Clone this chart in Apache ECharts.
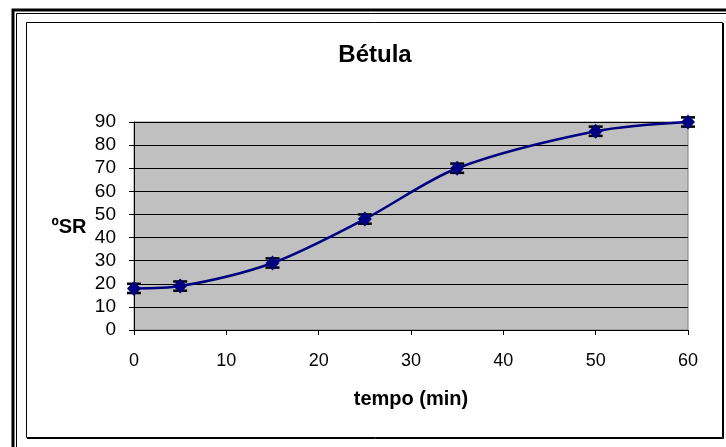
<!DOCTYPE html>
<html>
<head>
<meta charset="utf-8">
<script src="https://cdn.jsdelivr.net/npm/echarts@6/dist/echarts.min.js"></script>
<style>
  html, body { margin: 0; padding: 0; background: #fff; }
  #chart { width: 726px; height: 447px; }
</style>
</head>
<body>
<div id="chart"></div>
<script>
// Refining time (min) against Schopper-Riegler degree for birch pulp
const tempo = [0, 5, 15, 25, 35, 50, 60];
const grauSR = [18, 19, 29, 48, 70, 86, 90];
const erroSR = [2, 2, 2, 2, 2, 2, 2];
const xTicks = [0, 10, 20, 30, 40, 50, 60];
const yTicks = [0, 10, 20, 30, 40, 50, 60, 70, 80, 90];

const FONT = '"Liberation Sans", Arial, sans-serif';

const points = tempo.map((t, i) => [t, grauSR[i]]);
const errData = tempo.map((t, i) => [t, grauSR[i] - erroSR[i], grauSR[i] + erroSR[i]]);

const chart = echarts.init(document.getElementById('chart'), null, { renderer: 'canvas' });

chart.setOption({
  animation: false,
  backgroundColor: '#ffffff',
  grid: {
    left: 134, right: 38, top: 122, bottom: 117,
    show: true,
    backgroundColor: '#c0c0c0',
    borderColor: '#808080',
    borderWidth: 1
  },
  xAxis: {
    type: 'value',
    min: xTicks[0], max: xTicks[xTicks.length - 1], interval: 10,
    axisLine: { show: true, onZero: false, lineStyle: { color: '#000', width: 1 } },
    axisTick: { show: true, inside: false, length: 5, lineStyle: { color: '#000' } },
    splitLine: { show: false },
    axisLabel: { color: '#000', fontFamily: FONT, fontSize: 18, margin: 22 },
    name: 'tempo (min)',
    nameLocation: 'middle',
    nameGap: 59,
    nameTextStyle: { color: '#000', fontFamily: FONT, fontSize: 20, fontWeight: 'bold' }
  },
  yAxis: {
    type: 'value',
    min: yTicks[0], max: yTicks[yTicks.length - 1], interval: 10,
    axisLine: { show: true, lineStyle: { color: '#000', width: 1 } },
    axisTick: { show: true, inside: false, length: 5, lineStyle: { color: '#000' } },
    splitLine: { show: true, lineStyle: { color: '#000', width: 1 } },
    axisLabel: { color: '#000', fontFamily: FONT, fontSize: 19, margin: 18 }
  },
  graphic: [
    // double outer frame
    { type: 'rect', shape: { x: 13, y: 10, width: 900, height: 900 },
      style: { fill: 'none', stroke: '#000', lineWidth: 3 }, silent: true },
    { type: 'rect', shape: { x: 16.5, y: 13.5, width: 900, height: 900 },
      style: { fill: 'none', stroke: '#000', lineWidth: 1 }, silent: true },
    // inner chart-area frame with shadowed right/bottom edges
    { type: 'rect', shape: { x: 26.5, y: 22.5, width: 696, height: 415 },
      style: { fill: 'none', stroke: '#000', lineWidth: 1 }, silent: true },
    { type: 'polyline', shape: { points: [[723.5, 23], [723.5, 438.5], [27, 438.5]] },
      style: { stroke: '#000', lineWidth: 1, fill: null }, silent: true },
    { type: 'text', x: 375, y: 55,
      style: { text: 'Bétula', fill: '#000', font: 'bold 24px ' + FONT,
               textAlign: 'center', textVerticalAlign: 'middle' } },
    { type: 'text', x: 69, y: 227,
      style: { text: 'ºSR', fill: '#000', font: 'bold 20px ' + FONT,
               textAlign: 'center', textVerticalAlign: 'middle' } }
  ],
  series: [
    {
      type: 'custom',
      name: 'erro',
      clip: false,
      z: 3,
      data: errData,
      renderItem: function (params, api) {
        const x = api.coord([api.value(0), 0])[0];
        const lo = api.coord([api.value(0), api.value(1)])[1];
        const hi = api.coord([api.value(0), api.value(2)])[1];
        const half = 7;
        const st = { stroke: '#000', lineWidth: 2.5 };
        return {
          type: 'group',
          children: [
            { type: 'line', shape: { x1: x, y1: lo, x2: x, y2: hi }, style: st },
            { type: 'line', shape: { x1: x - half, y1: lo, x2: x + half, y2: lo }, style: st },
            { type: 'line', shape: { x1: x - half, y1: hi, x2: x + half, y2: hi }, style: st }
          ]
        };
      }
    },
    {
      type: 'line',
      name: 'ºSR',
      data: points,
      smooth: 0.3,
      clip: false,
      z: 4,
      symbol: 'diamond',
      symbolSize: [14, 15],
      itemStyle: { color: '#000080' },
      lineStyle: { color: '#000080', width: 2.5 }
    }
  ]
});
</script>
</body>
</html>
